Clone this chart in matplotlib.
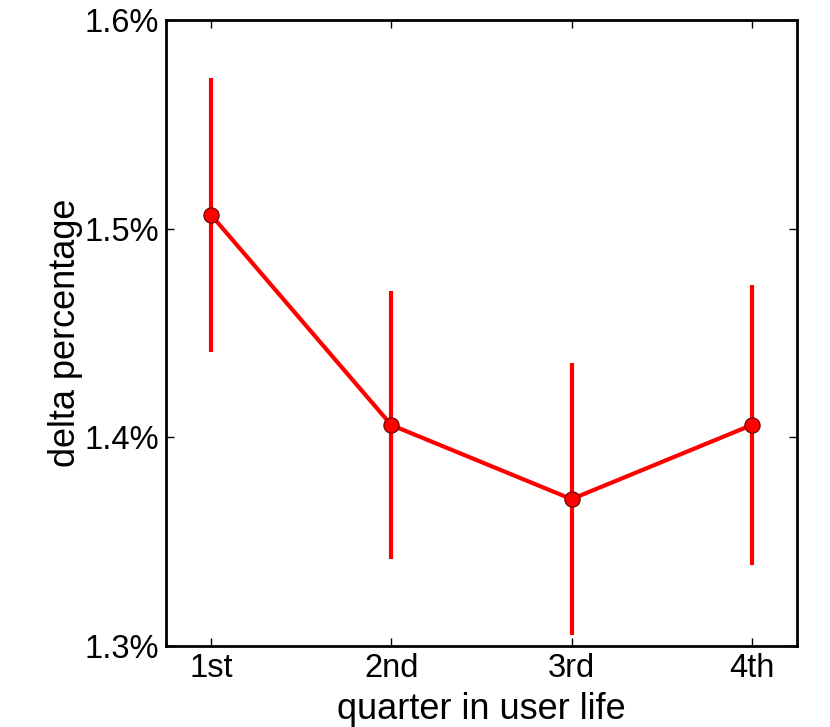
import numpy as np
import matplotlib
matplotlib.use('Agg')
import matplotlib.pyplot as plt

plt.rcParams['font.family'] = ['Liberation Sans', 'DejaVu Sans']

quarters = ['1st', '2nd', '3rd', '4th']
delta = [1.5066, 1.4059, 1.3704, 1.4059]
err = [0.0656, 0.0640, 0.0652, 0.0673]
yticks = [1.3, 1.4, 1.5, 1.6]
ylabels = ['1.3%', '1.4%', '1.5%', '1.6%']

fig = plt.figure(figsize=(8.3, 7.27), dpi=100)
ax = fig.add_axes([0.2, 0.1114, 0.76, 0.8611])

x = np.arange(1, len(quarters) + 1)
ax.errorbar(x, delta, yerr=err, color='red', lw=3, elinewidth=3, capsize=0,
            marker='o', ms=11, mfc='red', mec='#600000', mew=0.8)

ax.set_xlim(0.75, 4.25)
ax.set_ylim(1.3, 1.6)
ax.set_xticks(x)
ax.set_xticklabels(quarters)
ax.set_yticks(yticks)
ax.set_yticklabels(ylabels)
ax.tick_params(direction='in', length=6, width=1, labelsize=23.5, top=True, right=True, pad=5)
for s in ax.spines.values():
    s.set_linewidth(2)

ax.set_xlabel('quarter in user life', fontsize=26, labelpad=6)
ax.set_ylabel('delta percentage', fontsize=26, labelpad=1)

fig.savefig('out.png', dpi=100)
